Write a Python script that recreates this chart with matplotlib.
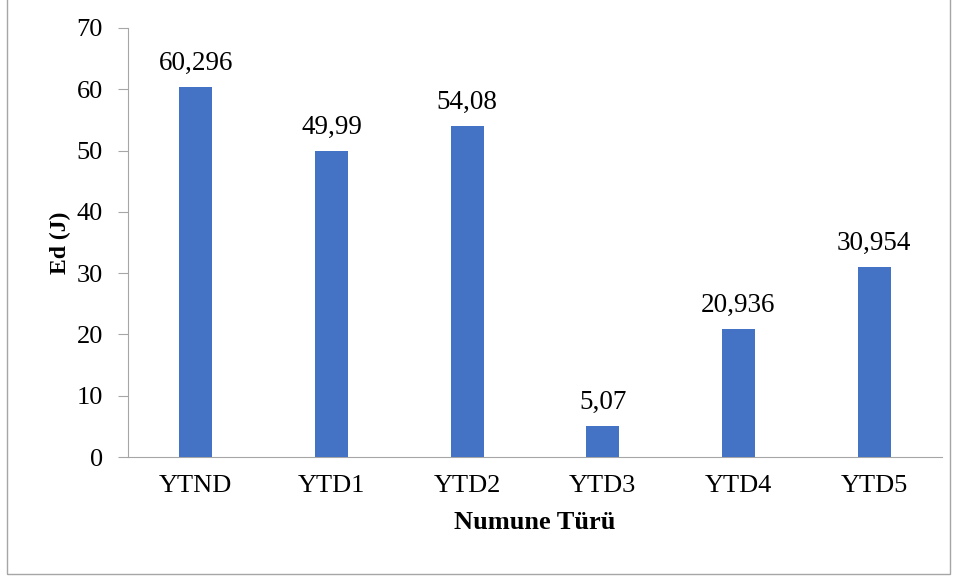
import matplotlib.pyplot as plt
from matplotlib.patches import Rectangle

categories = ['YTND', 'YTD1', 'YTD2', 'YTD3', 'YTD4', 'YTD5']
values = [60.296, 49.99, 54.08, 5.07, 20.936, 30.954]
value_labels = ['60,296', '49,99', '54,08', '5,07', '20,936', '30,954']

plt.rcParams['font.family'] = ['Liberation Serif', 'DejaVu Serif']

fig = plt.figure(figsize=(9.6, 5.76), dpi=100)
ax = fig.add_axes([128 / 960, 1 - 457 / 576, (942 - 128) / 960, (457 - 28) / 576])

x = range(len(categories))
bars = ax.bar(x, values, width=0.245, color='#4472C4', zorder=3)
for b, lab in zip(bars, value_labels):
    ax.annotate(lab, (b.get_x() + b.get_width() / 2, b.get_height()),
                xytext=(0, 8), textcoords='offset points',
                ha='center', va='bottom', fontsize=19.5)

ax.set_xlim(-0.5, len(categories) - 0.5)
ax.set_ylim(0, 70)
ax.set_yticks(range(0, 71, 10))
ax.set_xticks(list(x))
ax.set_xticklabels(categories)
ax.tick_params(axis='y', labelsize=19, length=7, color='#A6A6A6', pad=11)
ax.tick_params(axis='x', labelsize=19, length=0, pad=13)

for s in ['top', 'right']:
    ax.spines[s].set_visible(False)
ax.spines['left'].set_color('#A6A6A6')
ax.spines['bottom'].set_color('#A6A6A6')

ax.set_xlabel('Numune Türü', fontsize=19, fontweight='bold', labelpad=10)
ax.set_ylabel('Ed (J)', fontsize=17, fontweight='bold', labelpad=4)

fig.patches.append(Rectangle((7 / 960, 2 / 576), (950 - 7) / 960, 1.2,
                             transform=fig.transFigure, fill=False,
                             edgecolor='#A6A6A6', linewidth=1))

fig.savefig('out.png', dpi=100)
